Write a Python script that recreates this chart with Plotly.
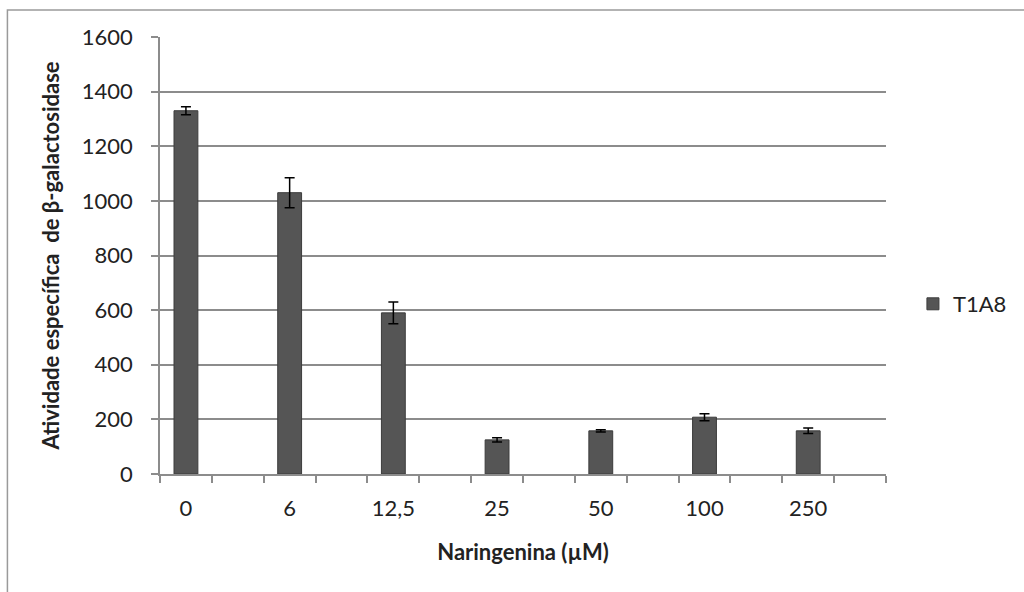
import plotly.graph_objects as go

categories = ["0", "6", "12,5", "25", "50", "100", "250"]
values = [1330, 1030, 590, 125, 158, 208, 158]
errors = [15, 55, 40, 8, 4, 13, 10]
series_name = "T1A8"
y_ticks = [0, 200, 400, 600, 800, 1000, 1200, 1400, 1600]

# each labelled category is followed by an empty slot (as in the original sheet)
xpos = [2 * i for i in range(len(categories))]
n_slots = 2 * len(categories)

W, H = 1024, 592
L, R, T, B = 160, 136, 37, 118
pw, ph = W - L - R, H - T - B

def px(xp):
    return (xp - L) / pw

def py(yp):
    return (H - B - yp) / ph

font = "Lato"
gray = "#8c8c8c"

fig = go.Figure()
fig.add_trace(go.Bar(
    x=xpos, y=values, name=series_name, width=0.46,
    marker=dict(color="#555555", line=dict(color="#3c3c3c", width=1)),
    error_y=dict(type="data", array=errors, visible=True, color="black",
                 thickness=1.5, width=5),
))

fig.update_layout(
    width=W, height=H,
    margin=dict(l=L, r=R, t=T, b=B),
    plot_bgcolor="white", paper_bgcolor="white",
    font=dict(family=font, size=22, color="#222"),
    showlegend=True,
    legend=dict(x=px(915), y=py(304), xanchor="left", yanchor="middle",
                font=dict(size=22, family=font), bgcolor="rgba(0,0,0,0)"),
    xaxis=dict(
        range=[-0.5, n_slots - 0.5],
        tickmode="array", tickvals=xpos, ticktext=categories,
        ticks="", ticklabelstandoff=14,
        showgrid=False, showline=True, linecolor=gray, linewidth=1.5,
        zeroline=False, tickfont=dict(size=22, family=font),
        minor=dict(tickmode="array", tickvals=[k - 0.5 for k in range(n_slots + 1)],
                   ticks="outside", ticklen=7, tickcolor=gray, tickwidth=1.5, showgrid=False),
        title=dict(text="<b>Naringenina (µM)</b>", font=dict(size=22, family=font), standoff=24),
    ),
    yaxis=dict(
        range=[0, 1600], tickmode="array", tickvals=y_ticks,
        ticks="outside", ticklen=7, tickcolor=gray, tickwidth=1.5,
        ticklabelstandoff=14,
        showgrid=True, gridcolor=gray, gridwidth=1.5,
        showline=True, linecolor=gray, linewidth=1.5, zeroline=False,
        tickfont=dict(size=22, family=font),
        title=dict(text="<b>Atividade específica  de β-galactosidase</b>",
                   font=dict(size=22, family=font), standoff=16),
    ),
    shapes=[dict(type="rect", xref="paper", yref="paper",
                 x0=px(7), x1=px(1030), y0=py(600), y1=py(10),
                 line=dict(color="#9a9a9a", width=1.5), fillcolor="rgba(0,0,0,0)", layer="below")],
)

fig.write_html("out.html")
